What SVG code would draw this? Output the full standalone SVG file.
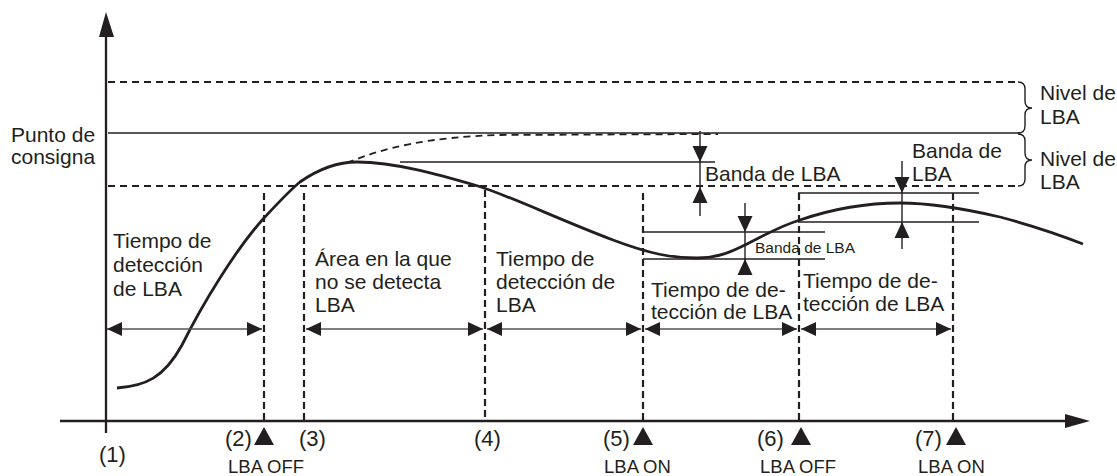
<svg xmlns="http://www.w3.org/2000/svg" width="1117" height="476" viewBox="0 0 1117 476">
<style>
text{font-family:"Liberation Sans",Arial,sans-serif;fill:#231f20}
.t{font-size:21px}
.n{font-size:22px}
.s{font-size:18.5px}
.b{font-size:15.5px}
.dash{stroke:#231f20;stroke-width:1.8;stroke-dasharray:7 5;fill:none}
.vd{stroke:#231f20;stroke-width:2.2;stroke-dasharray:7 4;fill:none}
.thin{stroke:#231f20;stroke-width:1.4;fill:none}
.axis{stroke:#231f20;stroke-width:2.3;fill:none}
.curve{stroke:#231f20;stroke-width:2.8;fill:none}
.dbl{stroke:#555;stroke-width:1.7;fill:none;marker-start:url(#ah);marker-end:url(#ah)}
.fill{fill:#231f20}
</style>
<defs>
<marker id="ah" viewBox="0 0 15 14" refX="15" refY="7" markerWidth="15" markerHeight="14" markerUnits="userSpaceOnUse" orient="auto-start-reverse">
<path d="M0,0 L15,7 L0,14 Z" fill="#231f20"/>
</marker>
<path id="tdown" d="M0,0 L-7.5,-16 L7.5,-16 Z"/>
<path id="tup" d="M0,0 L-7.5,16 L7.5,16 Z"/>
<path id="mk" d="M0,0 L-10,18 L10,18 Z"/>
</defs>

<g id="axes">
<line class="axis" x1="106" y1="34" x2="106" y2="433"/>
<path class="fill" d="M106,12 L99,37 L114,37 Z"/>
<line class="axis" x1="60" y1="421" x2="1068" y2="421"/>
<path class="fill" d="M1090,421 L1065,414 L1065,428 Z"/>
</g>

<g id="levels">
<line class="dash" x1="108" y1="82" x2="1018" y2="82"/>
<line class="thin" x1="108" y1="133" x2="1020" y2="133"/>
<line class="dash" x1="108" y1="186" x2="1018" y2="186"/>
<path class="thin" d="M1018,82 Q1025,82 1025,89 L1025,101 Q1025,108 1032,108 Q1025,108 1025,115 L1025,126 Q1025,133 1018,133"/>
<path class="thin" d="M1018,134 Q1025,134 1025,141 L1025,153 Q1025,160 1032,160 Q1025,160 1025,167 L1025,179 Q1025,186 1018,186"/>
</g>

<g id="time-lines">
<line class="vd" x1="264" y1="193" x2="264" y2="421"/>
<line class="vd" x1="304" y1="193" x2="304" y2="421"/>
<line class="vd" x1="485" y1="190" x2="485" y2="421"/>
<line class="vd" x1="643" y1="193" x2="643" y2="421"/>
<line class="vd" x1="799" y1="193" x2="799" y2="421"/>
<line class="vd" x1="953" y1="193" x2="953" y2="421"/>
</g>

<g id="curves">
<path class="curve" d="M117,388 C145,386 164,378 182,345 C202,305 235,250 264,218 C278,203 290,190 300,182 C320,168 338,162 357,162 C395,162 440,175 478,186 C510,196 560,220 613,240 C650,254 672,258 697,258 C720,258 735,250 745,245 C765,235 780,226 800,220 C835,208 870,203 900,203 C935,203 970,210 1000,217 C1030,225 1060,235 1083,244"/>
<path class="dash" stroke-width="1.9" d="M347,163 C385,147 430,137 500,135 L718,134"/>
</g>

<g id="connectors">
<line class="dbl" x1="107" y1="329" x2="262" y2="329"/>
<line class="dbl" x1="306" y1="329" x2="483" y2="329"/>
<line class="dbl" x1="487" y1="329" x2="641" y2="329"/>
<line class="dbl" x1="645" y1="329" x2="797" y2="329"/>
<line class="dbl" x1="801" y1="329" x2="951" y2="329"/>
</g>

<g id="band1">
<line class="thin" x1="400" y1="162" x2="715" y2="162"/>
<line class="thin" x1="700" y1="131" x2="700" y2="216"/>
<use href="#tdown" x="700" y="162" class="fill"/>
<use href="#tup" x="700" y="187" class="fill"/>
<text class="t" x="705" y="181">Banda de LBA</text>
</g>

<g id="band2">
<line class="thin" x1="643" y1="232" x2="825" y2="232"/>
<line class="thin" x1="643" y1="259" x2="825" y2="259"/>
<line class="thin" x1="745" y1="203" x2="745" y2="275"/>
<use href="#tdown" x="745" y="232" class="fill"/>
<use href="#tup" x="745" y="259" class="fill"/>
<text class="b" x="755" y="253">Banda de LBA</text>
</g>

<g id="band3">
<line class="thin" x1="798" y1="193" x2="979" y2="193"/>
<line class="thin" x1="798" y1="222" x2="979" y2="222"/>
<line class="thin" x1="902" y1="161" x2="902" y2="249"/>
<use href="#tdown" x="902" y="193" class="fill"/>
<use href="#tup" x="902" y="222" class="fill"/>
<text class="t" x="912" y="158">Banda de</text>
<text class="t" x="912" y="181">LBA</text>
</g>

<g id="labels">
<text class="t" x="11" y="142">Punto de</text>
<text class="t" x="11" y="164">consigna</text>
<text class="t" x="1040" y="100">Nivel de</text>
<text class="t" x="1040" y="124">LBA</text>
<text class="t" x="1040" y="166">Nivel de</text>
<text class="t" x="1040" y="189">LBA</text>
</g>

<g id="region1">
<text class="t" x="113" y="248">Tiempo de</text>
<text class="t" x="113" y="272">detección</text>
<text class="t" x="113" y="296">de LBA</text>
</g>
<g id="region2">
<text class="t" x="315" y="266">Área en la que</text>
<text class="t" x="315" y="289">no se detecta</text>
<text class="t" x="315" y="312">LBA</text>
</g>
<g id="region3">
<text class="t" x="496" y="266">Tiempo de</text>
<text class="t" x="496" y="289">detección de</text>
<text class="t" x="496" y="312">LBA</text>
</g>
<g id="region4">
<text class="t" x="651" y="297">Tiempo de de-</text>
<text class="t" x="651" y="319">tección de LBA</text>
</g>
<g id="region5">
<text class="t" x="803" y="288">Tiempo de de-</text>
<text class="t" x="803" y="311">tección de LBA</text>
</g>

<g id="points">
<text class="n" x="99" y="462">(1)</text>
<text class="n" x="225" y="446">(2)</text>
<use href="#mk" x="264" y="427" class="fill"/>
<text class="s" x="228" y="473">LBA OFF</text>
<text class="n" x="299" y="446">(3)</text>
<text class="n" x="474" y="446">(4)</text>
<text class="n" x="603" y="446">(5)</text>
<use href="#mk" x="643" y="427" class="fill"/>
<text class="s" x="604" y="473">LBA ON</text>
<text class="n" x="757" y="446">(6)</text>
<use href="#mk" x="801" y="427" class="fill"/>
<text class="s" x="760" y="473">LBA OFF</text>
<text class="n" x="915" y="446">(7)</text>
<use href="#mk" x="956" y="427" class="fill"/>
<text class="s" x="918" y="473">LBA ON</text>
</g>
</svg>
